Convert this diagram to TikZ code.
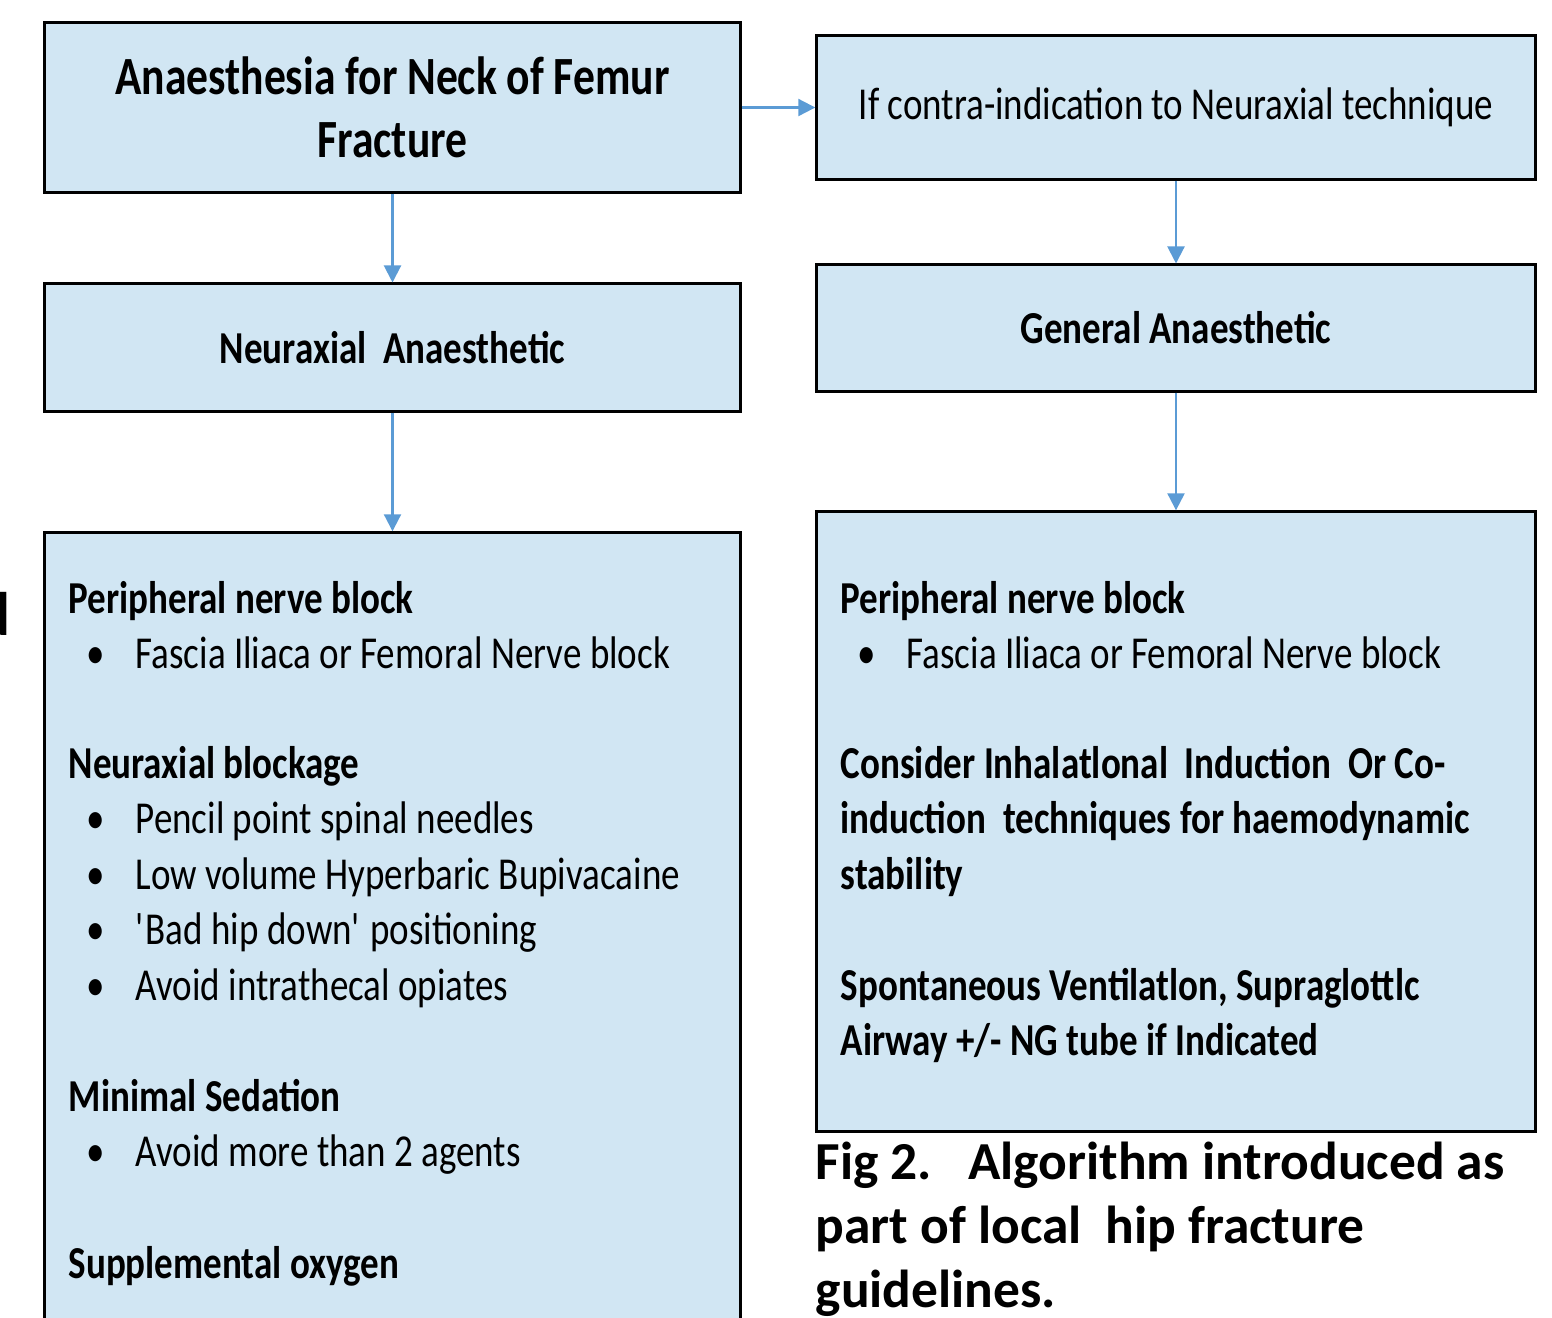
\documentclass[tikz,border=0pt]{standalone}
\usepackage{fontspec}
\setmainfont{Carlito}[FakeStretch=0.81]
\newfontfamily\capfont{Carlito}
\usepackage{tikz}
\usetikzlibrary{arrows.meta}

\definecolor{boxfill}{RGB}{209,230,243}
\definecolor{arrblue}{RGB}{91,155,213}

\tikzset{
  box/.style={draw=black, line width=0.85pt, fill=boxfill, inner sep=0pt},
  arr/.style={draw=arrblue, line width=0.6pt, -{Triangle[length=0.17cm,width=0.17cm]}},
  txt/.style={anchor=base west, inner sep=0pt, font=\fontsize{13}{15}\selectfont},
  head/.style={anchor=base west, inner sep=0pt, font=\fontsize{13}{15}\selectfont\bfseries},
  bul/.style={anchor=base, inner sep=0pt, font=\fontsize{13}{15}\selectfont},
  capt/.style={anchor=base west, inner sep=0pt, font=\capfont\fontsize{15.2}{18}\selectfont\bfseries}
}

\begin{document}
\begin{tikzpicture}[x=0.01cm, y=-0.01cm]
	\useasboundingbox (0,0) rectangle (1552,1317);

	% boxes
	\node (title) [box, minimum width=6.95cm, minimum height=1.69cm, align=center,
		font=\fontsize{15.3}{18}\selectfont\bfseries] at (392.5,107.5)
		{Anaesthesia for Neck of Femur\\Fracture};
	\node (contra) [box, minimum width=7.18cm, minimum height=1.43cm,
		font=\fontsize{13}{15}\selectfont] at (1176,107.5)
		{If contra-indication to Neuraxial technique};
	\node (neur) [box, minimum width=6.95cm, minimum height=1.27cm,
		font=\fontsize{13}{15}\selectfont\bfseries] at (392.5,347.5) {Neuraxial\ \ Anaesthetic};
	\node (gen) [box, minimum width=7.18cm, minimum height=1.26cm,
		font=\fontsize{13}{15}\selectfont\bfseries] at (1176,328) {General Anaesthetic};
	\node (left) [box, minimum width=6.95cm, minimum height=8.07cm] at (392.5,936.5) {};
	\node (right) [box, minimum width=7.18cm, minimum height=6.19cm] at (1176,821.5) {};

	% arrows
	\draw[arr] (title.east) -- (contra.west);
	\draw[arr] (title.south) -- (neur.north);
	\draw[arr] (neur.south) -- (left.north);
	\draw[arr] (contra.south) -- (gen.north);
	\draw[arr] (gen.south) -- (right.north);

	% left box text
	\node (lh1) [head] at (68,613) {Peripheral nerve block};
	\node (lb1) [bul] at (96,668) {\textbullet};
	\node (lt1) [txt] at (135,668) {Fascia Iliaca or Femoral Nerve block};
	\node (lh2) [head] at (68,778) {Neuraxial blockage};
	\node (lb2) [bul] at (96,833) {\textbullet};
	\node (lt2) [txt] at (135,833) {Pencil point spinal needles};
	\node (lb3) [bul] at (96,889) {\textbullet};
	\node (lt3) [txt] at (135,889) {Low volume Hyperbaric Bupivacaine};
	\node (lb4) [bul] at (96,944) {\textbullet};
	\node (lt4) [txt] at (135,944) {\textquotesingle Bad hip down\textquotesingle\ positioning};
	\node (lb5) [bul] at (96,1000) {\textbullet};
	\node (lt5) [txt] at (135,1000) {Avoid intrathecal opiates};
	\node (lh3) [head] at (68,1111) {Minimal Sedation};
	\node (lb6) [bul] at (96,1166) {\textbullet};
	\node (lt6) [txt] at (135,1166) {Avoid more than 2 agents};
	\node (lh4) [head] at (68,1278) {Supplemental oxygen};

	% right box text
	\node (rh1) [head] at (840,613) {Peripheral nerve block};
	\node (rb1) [bul] at (867,668) {\textbullet};
	\node (rt1) [txt] at (906,668) {Fascia Iliaca or Femoral Nerve block};
	\node (rh2) [head] at (840,778) {Consider Inhalatlonal\ \ Induction\ \ Or Co-};
	\node (rh3) [head] at (840,833) {induction\ \ techniques for haemodynamic};
	\node (rh4) [head] at (840,889) {stability};
	\node (rh5) [head] at (840,1000) {Spontaneous Ventilatlon, Supraglottlc};
	\node (rh6) [head] at (840,1055) {Airway +/- NG tube if Indicated};

	% caption
	\node (cap1) [capt] at (815,1179) {Fig 2.\ \ \ Algorithm introduced as};
	\node (cap2) [capt] at (815,1243) {part of local\ \ hip fracture};
	\node (cap3) [capt] at (815,1307) {guidelines.};

	% cut-off letter at the left edge
	\node (cut) [anchor=base east, inner sep=0pt, font=\capfont\fontsize{17.5}{20}\selectfont\bfseries] at (11,635) {d};
\end{tikzpicture}
\end{document}
